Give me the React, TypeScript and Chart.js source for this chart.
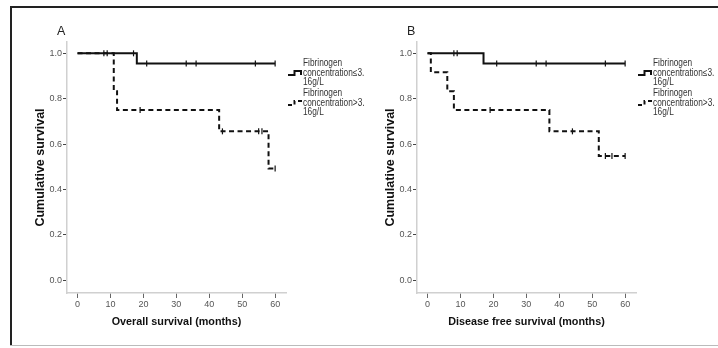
import React, { useEffect, useRef } from "react";
import { Chart, registerables } from "chart.js";

Chart.register(...registerables);

// ---- data ----
const xTickValues = [0, 10, 20, 30, 40, 50, 60];
const yTickValues = [0, 0.2, 0.4, 0.6, 0.8, 1.0];

const groupLabels = ["Fibrinogen\nconcentration\u22643.\n16g/L", "Fibrinogen\nconcentration>3.\n16g/L"];

// Overall survival, fibrinogen <= 3.16 g/L
const osLowTime = [0, 8, 9, 17, 18, 21, 33, 36, 54, 60];
const osLowSurv = [1, 1, 1, 1, 0.955, 0.955, 0.955, 0.955, 0.955, 0.955];
const osLowCens = [0, 1, 1, 1, 0, 1, 1, 1, 1, 1];

// Overall survival, fibrinogen > 3.16 g/L
const osHighTime = [0, 11, 12, 19, 43, 44, 55, 56, 58, 60];
const osHighSurv = [1, 0.833, 0.75, 0.75, 0.656, 0.656, 0.656, 0.656, 0.492, 0.492];
const osHighCens = [0, 0, 0, 1, 0, 1, 1, 1, 0, 1];

// Disease free survival, fibrinogen <= 3.16 g/L
const dfsLowTime = [0, 8, 9, 17, 21, 33, 36, 54, 60];
const dfsLowSurv = [1, 1, 1, 0.955, 0.955, 0.955, 0.955, 0.955, 0.955];
const dfsLowCens = [0, 1, 1, 0, 1, 1, 1, 1, 1];

// Disease free survival, fibrinogen > 3.16 g/L
const dfsHighTime = [0, 1, 6, 8, 19, 37, 44, 52, 54, 56, 60];
const dfsHighSurv = [1, 0.917, 0.833, 0.75, 0.75, 0.656, 0.656, 0.547, 0.547, 0.547, 0.547];
const dfsHighCens = [0, 0, 0, 0, 1, 0, 1, 0, 1, 1, 1];

const SANS = "'Liberation Sans', Arial, sans-serif";

type Series = { time: number[]; surv: number[]; cens: number[]; dash: boolean };

function Panel(props: { left: number; label: string; xTitle: string; series: Series[] }) {
  const ref = useRef<HTMLCanvasElement>(null);
  useEffect(() => {
    const chart = new Chart(ref.current as HTMLCanvasElement, {
      type: "line",
      data: {
        datasets: props.series.map((s) => ({
          data: s.time.map((t, i) => ({ x: t, y: s.surv[i] })),
          stepped: "before",
          borderColor: "#111",
          borderWidth: 2,
          borderDash: s.dash ? [5, 3.5] : [],
          fill: false,
          tension: 0,
          pointStyle: "line",
          pointRotation: 90,
          pointRadius: (c: any) => (s.cens[c.dataIndex] ? 3 : 0),
          pointHoverRadius: 0,
          pointBorderColor: "#111",
          pointBackgroundColor: "#111",
          pointBorderWidth: 1.2,
        })) as any,
      },
      options: {
        animation: false,
        responsive: false,
        events: [],
        layout: { padding: { top: 33, right: 74, left: 0, bottom: 0 } },
        plugins: { legend: { display: false }, tooltip: { enabled: false } },
        scales: {
          x: {
            type: "linear",
            min: -3.2,
            max: 63.3,
            afterFit: (s: any) => {
              s.height = 51;
            },
            afterBuildTicks: (s: any) => {
              s.ticks = xTickValues.map((v) => ({ value: v }));
            },
            ticks: {
              color: "#555",
              font: { family: SANS, size: 9 },
              padding: 1.5,
              maxRotation: 0,
              callback: (v: any) => String(v),
            },
            grid: { drawOnChartArea: false, drawTicks: true, tickLength: 5, tickColor: "#666", tickWidth: 1 },
            border: { color: "#d0d0d0", width: 1.5 },
            title: {
              display: true,
              text: props.xTitle,
              color: "#111",
              font: { family: SANS, size: 10.8, weight: "bold" },
              padding: { top: 0, bottom: 15.5 },
            },
          },
          y: {
            type: "linear",
            min: -0.057,
            max: 1.05,
            afterFit: (s: any) => {
              s.width = 55;
            },
            afterBuildTicks: (s: any) => {
              s.ticks = yTickValues.map((v) => ({ value: v }));
            },
            ticks: {
              color: "#555",
              font: { family: SANS, size: 9 },
              padding: 1,
              callback: (v: any) => Number(v).toFixed(1),
            },
            grid: { drawOnChartArea: false, drawTicks: true, tickLength: 4, tickColor: "#444", tickWidth: 1 },
            border: { color: "#d0d0d0", width: 1.5 },
            title: {
              display: true,
              text: "Cumulative survival",
              color: "#111",
              font: { family: SANS, size: 12.5, weight: "bold" },
              padding: { top: 21, bottom: 0 },
            },
          },
        },
      } as any,
    });
    return () => chart.destroy();
  }, []);

  const symLeft = props.left + 276;
  const textLeft = props.left + 291;
  const legendTops = [58, 88];

  return (
    <>
      <canvas
        ref={ref}
        width={348}
        height={335}
        style={{ position: "absolute", left: props.left, top: 9, width: 348, height: 335 }}
      />
      <div
        style={{
          position: "absolute",
          left: props.left + 45,
          top: 25,
          fontFamily: SANS,
          fontSize: 12.5,
          lineHeight: "12.5px",
          color: "#222",
        }}
      >
        {props.label}
      </div>
      {groupLabels.map((g, i) => (
        <React.Fragment key={i}>
          <svg
            width={16}
            height={10}
            style={{ position: "absolute", left: symLeft, top: legendTops[i] + 11 }}
          >
            <path
              d="M0 6 H6.5 V2 H13 V6"
              fill="none"
              stroke="#111"
              strokeWidth={2}
              strokeDasharray={i === 1 ? "4 3" : undefined}
            />
          </svg>
          <div
            style={{
              position: "absolute",
              left: textLeft,
              top: legendTops[i],
              fontFamily: SANS,
              fontSize: 10,
              lineHeight: "9.7px",
              color: "#333",
              whiteSpace: "pre",
              transform: "scaleX(0.83)",
              transformOrigin: "0 0",
            }}
          >
            {g}
          </div>
        </React.Fragment>
      ))}
    </>
  );
}

export default function App() {
  const osSeries: Series[] = [
    { time: osLowTime, surv: osLowSurv, cens: osLowCens, dash: false },
    { time: osHighTime, surv: osHighSurv, cens: osHighCens, dash: true },
  ];
  const dfsSeries: Series[] = [
    { time: dfsLowTime, surv: dfsLowSurv, cens: dfsLowCens, dash: false },
    { time: dfsHighTime, surv: dfsHighSurv, cens: dfsHighCens, dash: true },
  ];
  return (
    <div
      style={{
        position: "fixed",
        left: 0,
        top: 0,
        width: 718,
        height: 348,
        background: "#fff",
        overflow: "hidden",
      }}
    >
      <div style={{ position: "absolute", left: 10, top: 6, width: 708, height: 2, background: "#222" }} />
      <div style={{ position: "absolute", left: 10, top: 6, width: 2, height: 340, background: "#222" }} />
      <div style={{ position: "absolute", left: 10, top: 345, width: 708, height: 1, background: "#bbb" }} />
      <Panel left={12} label="A" xTitle="Overall survival (months)" series={osSeries} />
      <Panel left={362} label="B" xTitle="Disease free survival (months)" series={dfsSeries} />
    </div>
  );
}
